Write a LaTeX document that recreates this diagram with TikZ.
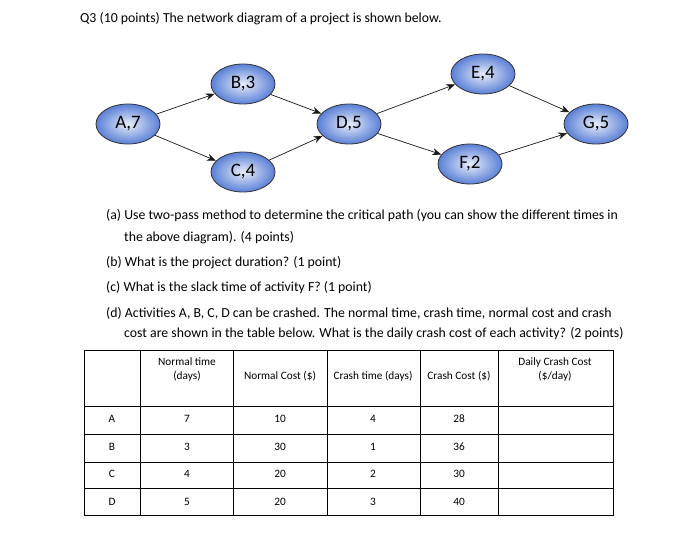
\documentclass[tikz,border=0pt]{standalone}
\usepackage{fontspec}
\setmainfont{Carlito}
\usetikzlibrary{shapes.geometric,arrows.meta}
\definecolor{nodeblue}{HTML}{5A7FD6}
\definecolor{nodelight}{HTML}{E8EEFA}
\tikzstyle{act} = [ellipse, draw=black!80, line width=0.8pt, inner color=nodelight, outer color=nodeblue, minimum width=64pt, minimum height=40pt, inner sep=0pt, font=\fontsize{19}{19}\selectfont]
\tikzstyle{link} = [-{Stealth[length=9pt,width=7pt]}, line width=0.7pt, black!90]
\tikzstyle{qtext} = [anchor=west, inner sep=0pt, font=\fontsize{13.8}{16}\selectfont]
\tikzstyle{cell} = [font=\fontsize{11.3}{14}\selectfont, align=center, inner sep=0pt]

\begin{document}
\begin{tikzpicture}[x=1pt,y=-1pt]
\useasboundingbox (0,0) rectangle (700,533);

% Title
\node[qtext] (title) at (80,19) {Q3 (10 points) The network diagram of a project is shown below.};

% Define nodes
\node[act] (a) at (128,124) {A,7};
\node[act] (b) at (243,84)  {B,3};
\node[act] (c) at (243,172) {C,4};
\node[act] (d) at (349,124) {D,5};
\node[act] (e) at (483,74)  {E,4};
\node[act] (f) at (470,164) {F,2};
\node[act] (g) at (596,124) {G,5};

% Edges
\draw[link] (a) -- (b);
\draw[link] (a) -- (c);
\draw[link] (b) -- (d);
\draw[link] (c) -- (d);
\draw[link] (d) -- (e);
\draw[link] (d) -- (f);
\draw[link] (e) -- (g);
\draw[link] (f) -- (g);

% Questions
\node[qtext] (qa1) at (106,216) {(a) Use two-pass method to determine the critical path (you can show the different times in};
\node[qtext] (qa2) at (124,238) {the above diagram). (4 points)};
\node[qtext] (qb)  at (106,263) {(b) What is the project duration? (1 point)};
\node[qtext] (qc)  at (106,288) {(c) What is the slack time of activity F? (1 point)};
\node[qtext] (qd1) at (106,313) {(d) Activities A, B, C, D can be crashed. The normal time, crash time, normal cost and crash};
\node[qtext] (qd2) at (124,334) {cost are shown in the table below. What is the daily crash cost of each activity? (2 points)};

% Table
\draw[line width=1pt] (84,350) rectangle (613,515);
\foreach \x in {140,233,327,420,498}
  \draw[line width=0.8pt] (\x,350) -- (\x,515);
\foreach \y in {406,434,462,488}
  \draw[line width=0.8pt] (84,\y) -- (613,\y);

\node[cell] (h1) at (187,369) {Normal time\\(days)};
\node[cell] (h2) at (280,376) {Normal Cost (\$)};
\node[cell] (h3) at (373,376) {Crash time (days)};
\node[cell] (h4) at (459,376) {Crash Cost (\$)};
\node[cell] (h5) at (555,369) {Daily Crash Cost\\(\$/day)};

\foreach \r/\n/\nc/\ct/\cc [count=\i] in {A/7/10/4/28, B/3/30/1/36, C/4/20/2/30, D/5/20/3/40} {
  \pgfmathsetmacro{\yy}{419+(\i-1)*27.5}
  \node[cell] (r\i) at (112,\yy) {\r};
  \node[cell] (n\i) at (187,\yy) {\n};
  \node[cell] (nc\i) at (280,\yy) {\nc};
  \node[cell] (ct\i) at (373,\yy) {\ct};
  \node[cell] (cc\i) at (459,\yy) {\cc};
}
\end{tikzpicture}
\end{document}
